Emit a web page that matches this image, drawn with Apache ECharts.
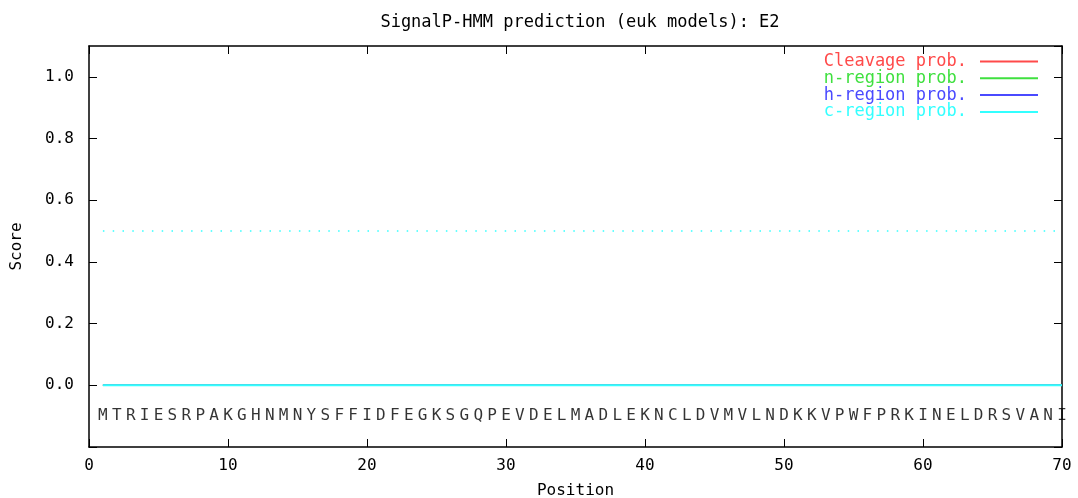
<!DOCTYPE html>
<html>
<head>
<meta charset="utf-8">
<script src="https://cdn.jsdelivr.net/npm/echarts@6/dist/echarts.min.js"></script>
<style>
  html, body { margin: 0; padding: 0; background: #fff; }
  #host { width: 1078px; height: 498px; }
</style>
</head>
<body>
<div id="host"></div>
<script>
// SignalP-HMM output, one value per residue position (1..70)
const residues = "MTRIESRPAKGHNMNYSFFIDFEGKSGQPEVDELMADLEKNCLDVMVLNDKKVPWFPRKINELDRSVANI".split("");
const cleavageProb = [
  0, 0, 0, 0, 0, 0, 0, 0, 0, 0,
  0, 0, 0, 0, 0, 0, 0, 0, 0, 0,
  0, 0, 0, 0, 0, 0, 0, 0, 0, 0,
  0, 0, 0, 0, 0, 0, 0, 0, 0, 0,
  0, 0, 0, 0, 0, 0, 0, 0, 0, 0,
  0, 0, 0, 0, 0, 0, 0, 0, 0, 0,
  0, 0, 0, 0, 0, 0, 0, 0, 0, 0,
];
const nRegionProb = [
  0, 0, 0, 0, 0, 0, 0, 0, 0, 0,
  0, 0, 0, 0, 0, 0, 0, 0, 0, 0,
  0, 0, 0, 0, 0, 0, 0, 0, 0, 0,
  0, 0, 0, 0, 0, 0, 0, 0, 0, 0,
  0, 0, 0, 0, 0, 0, 0, 0, 0, 0,
  0, 0, 0, 0, 0, 0, 0, 0, 0, 0,
  0, 0, 0, 0, 0, 0, 0, 0, 0, 0,
];
const hRegionProb = [
  0, 0, 0, 0, 0, 0, 0, 0, 0, 0,
  0, 0, 0, 0, 0, 0, 0, 0, 0, 0,
  0, 0, 0, 0, 0, 0, 0, 0, 0, 0,
  0, 0, 0, 0, 0, 0, 0, 0, 0, 0,
  0, 0, 0, 0, 0, 0, 0, 0, 0, 0,
  0, 0, 0, 0, 0, 0, 0, 0, 0, 0,
  0, 0, 0, 0, 0, 0, 0, 0, 0, 0,
];
const cRegionProb = [
  0, 0, 0, 0, 0, 0, 0, 0, 0, 0,
  0, 0, 0, 0, 0, 0, 0, 0, 0, 0,
  0, 0, 0, 0, 0, 0, 0, 0, 0, 0,
  0, 0, 0, 0, 0, 0, 0, 0, 0, 0,
  0, 0, 0, 0, 0, 0, 0, 0, 0, 0,
  0, 0, 0, 0, 0, 0, 0, 0, 0, 0,
  0, 0, 0, 0, 0, 0, 0, 0, 0, 0,
];
const cutoff = 0.5;
const cutoffSpan = [1, 70];
const residueRow = -0.1;

const font = "DejaVu Sans Mono";
const colors = {
  cleavage: "#ff4a4a",
  n: "#3fe03f",
  h: "#4a4aff",
  c: "#33ffff",
};

const pos = (arr) => arr.map((v, i) => [i + 1, v]);

const chart = echarts.init(document.getElementById("host"));

const baseX = {
  type: "value",
  min: 0,
  max: 70,
  interval: 10,
  splitLine: { show: false },
  axisLine: { onZero: false, lineStyle: { color: "#000", width: 1.5 } },
  axisTick: { inside: true, length: 8, lineStyle: { color: "#000" } },
};
const baseY = {
  type: "value",
  min: -0.2,
  max: 1.1,
  interval: 0.2,
  splitLine: { show: false },
  axisLine: { show: true, onZero: false, lineStyle: { color: "#000", width: 1.5 } },
  axisTick: { show: true, inside: true, length: 8, lineStyle: { color: "#000" } },
};

const lineSeries = (name, data, color, width) => ({
  name,
  type: "line",
  data: pos(data),
  showSymbol: false,
  symbol: "none",
  lineStyle: { color, width },
  itemStyle: { color },
});

chart.setOption({
  backgroundColor: "#fff",
  animation: false,
  textStyle: { fontFamily: font, color: "#000" },
  title: {
    text: "SignalP-HMM prediction (euk models): E2",
    left: 575,
    textAlign: "center",
    top: 9,
    textStyle: { fontFamily: font, fontSize: 17, fontWeight: "normal", color: "#000" },
  },
  legend: {
    orient: "vertical",
    right: 35,
    top: 48,
    align: "right",
    itemWidth: 58,
    itemHeight: 2,
    itemGap: -0.2,
    icon: "rect",
    textStyle: { fontFamily: font, fontSize: 17, lineHeight: 15, padding: [0, 8, 0, 0] },
    data: [
      { name: "Cleavage prob.", textStyle: { color: colors.cleavage } },
      { name: "n-region prob.", textStyle: { color: colors.n } },
      { name: "h-region prob.", textStyle: { color: colors.h } },
      { name: "c-region prob.", textStyle: { color: colors.c } },
    ],
  },
  grid: { left: 89, right: 16, top: 46, bottom: 51, containLabel: false, outerBoundsMode: "none" },
  xAxis: [
    Object.assign({}, baseX, {
      position: "bottom",
      name: "Position",
      nameLocation: "middle",
      nameGap: 36,
      nameTextStyle: { fontFamily: font, fontSize: 16, color: "#000" },
      axisLabel: { fontFamily: font, fontSize: 16, color: "#000", margin: 11 },
    }),
    Object.assign({}, baseX, { position: "top", axisLabel: { show: false } }),
  ],
  yAxis: [
    Object.assign({}, baseY, {
      position: "left",
      name: "Score",
      nameLocation: "middle",
      nameGap: 64,
      nameTextStyle: { fontFamily: font, fontSize: 16, color: "#000" },
      axisLabel: {
        fontFamily: font,
        fontSize: 16,
        color: "#000",
        margin: 15,
        showMaxLabel: false,
        formatter: (v) => (v < -0.05 || v > 1.05 ? "" : v.toFixed(1)),
      },
    }),
    Object.assign({}, baseY, { position: "right", axisLabel: { show: false } }),
  ],
  series: [
    lineSeries("Cleavage prob.", cleavageProb, colors.cleavage, 1.5),
    lineSeries("n-region prob.", nRegionProb, colors.n, 1.5),
    lineSeries("h-region prob.", hRegionProb, colors.h, 1.5),
    lineSeries("c-region prob.", cRegionProb, colors.c, 2),
    {
      name: "cutoff",
      type: "line",
      data: cutoffSpan.map((x) => [x, cutoff]),
      symbol: "none",
      lineStyle: { color: colors.c, width: 1.5, type: [1.5, 8.3] },
      silent: true,
    },
    {
      name: "sequence",
      type: "scatter",
      data: residues.map((r, i) => [i + 1, residueRow, r]),
      symbol: "circle",
      symbolSize: 1,
      itemStyle: { color: "rgba(0,0,0,0)" },
      label: {
        show: true,
        position: "inside",
        formatter: (p) => p.data[2],
        fontFamily: font,
        fontSize: 16,
        color: "#000",
      },
      silent: true,
    },
  ],
});
</script>
</body>
</html>
